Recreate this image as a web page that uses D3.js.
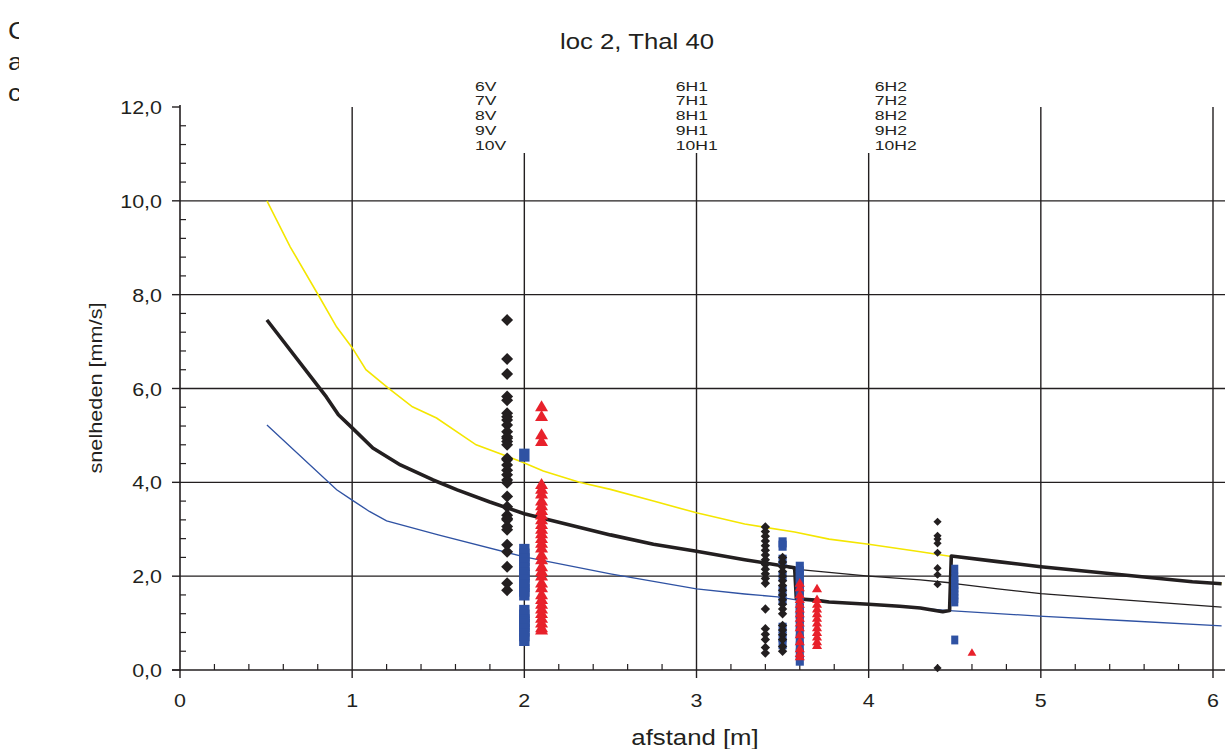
<!DOCTYPE html>
<html><head><meta charset="utf-8">
<script src="https://cdn.jsdelivr.net/npm/d3@7"></script>
<style>
body{margin:0;background:#fff}
svg{display:block}
text{font-family:"Liberation Sans",Arial,sans-serif;fill:#231f20}
</style>
</head><body>
<svg id="c" width="1225" height="749"></svg>
<script>
// ---------- data ----------
const title = "loc 2, Thal 40";
const xLabel = "afstand [m]";
const yLabel = "snelheden [mm/s]";
const xTicks = [0,1,2,3,4,5,6];
const xTickLabels = ["0","1","2","3","4","5","6"];
const yTicks = [0,2,4,6,8,10,12];
const yTickLabels = ["0,0","2,0","4,0","6,0","8,0","10,0","12,0"];
const sensorPositions = [2,3,4];
const sensorLabelX = [1.713,2.88,4.036];
const sensorLabels = [
  ["6V","7V","8V","9V","10V"],
  ["6H1","7H1","8H1","9H1","10H1"],
  ["6H2","7H2","8H2","9H2","10H2"]
];
const sideLetters = ["C","a","c"];

const upperX = [0.505,0.64,0.81,0.91,1.0,1.08,1.21,1.35,1.49,1.72,1.99,2.11,2.32,2.5,2.75,3.0,3.28,3.57,3.77,4.0,4.3,4.48,4.75,5.0,5.44,5.88,6.05];
const upperY = [10.0,9.02,7.95,7.31,6.87,6.40,6.01,5.61,5.37,4.80,4.43,4.24,4.0,3.85,3.6,3.35,3.11,2.94,2.79,2.68,2.52,2.42,2.31,2.2,2.04,1.88,1.84];
const meanX = [0.505,0.85,0.92,1.0,1.12,1.28,1.47,1.61,1.8,2.0,2.2,2.5,2.75,3.0,3.28,3.47,3.57,3.77,4.0,4.3,4.47,4.5,4.75,5.0,5.5,6.05];
const meanY = [7.46,5.82,5.44,5.16,4.73,4.37,4.05,3.84,3.58,3.33,3.15,2.88,2.68,2.53,2.35,2.24,2.15,2.08,2.0,1.92,1.86,1.84,1.73,1.63,1.49,1.34];
const lowerX = [0.505,0.91,1.0,1.1,1.2,1.5,2.0,2.5,3.0,3.28,3.47,3.57,4.0,4.3,4.45,4.49,4.99,5.5,6.05];
const lowerY = [5.22,3.84,3.62,3.38,3.18,2.88,2.41,2.05,1.73,1.62,1.56,1.50,1.40,1.32,1.27,1.26,1.15,1.05,0.94];
const thickX = [0.505,0.85,0.92,1.0,1.12,1.28,1.47,1.61,1.8,2.0,2.2,2.5,2.75,3.0,3.28,3.47,3.57,3.58,3.69,3.77,4.0,4.18,4.3,4.43,4.47,4.48,4.75,5.0,5.44,5.88,6.05];
const thickY = [7.46,5.82,5.44,5.16,4.73,4.37,4.05,3.84,3.58,3.33,3.15,2.88,2.68,2.53,2.35,2.24,2.18,1.52,1.49,1.45,1.40,1.36,1.32,1.24,1.27,2.43,2.31,2.2,2.04,1.88,1.84];

// measured points (x in m, velocities in mm/s)
const black19 = [7.46,6.63,6.31,5.83,5.75,5.47,5.40,5.33,5.22,5.08,4.97,4.94,4.87,4.80,4.51,4.48,4.37,4.26,4.16,4.05,3.99,3.70,3.48,3.30,3.23,3.20,3.06,2.99,2.67,2.52,2.20,1.85,1.70];
const blue20 = [4.58,2.55,2.45,2.35,2.25,2.15,2.05,2.0,1.9,1.8,1.7,1.62,1.25,1.15,1.05,1.0,0.95,0.85,0.75,0.65];
const red21 = [5.61,5.40,5.01,4.87,3.95,3.85,3.75,3.6,3.5,3.4,3.3,3.2,3.1,3.0,2.9,2.8,2.7,2.6,2.45,2.35,2.2,2.1,2.0,1.85,1.75,1.6,1.5,1.4,1.3,1.2,1.1,1.0,0.9,0.85];
const black34 = [3.05,2.95,2.85,2.75,2.65,2.55,2.45,2.35,2.25,2.15,2.05,1.95,1.85,1.3,0.88,0.76,0.65,0.48,0.36];
const black35 = [2.4,2.3,2.2,2.1,2.0,1.9,1.8,1.7,1.6,1.5,1.4,1.3,1.2,0.95,0.85,0.75,0.65,0.5,0.4];
const blue35 = [2.72,2.65,2.35,2.0,1.7,1.5,0.9,0.7,0.55];
const blue36 = [2.2,2.1,2.0,1.9,1.8,1.7,1.6,1.4,1.3,1.2,1.1,0.95,0.8,0.65,0.5,0.35,0.2];
const red36 = [1.85,1.75,1.6,1.5,1.4,1.3,1.2,1.1,1.0,0.9,0.75,0.6,0.45,0.35,0.28];
const red37 = [1.73,1.5,1.4,1.3,1.2,1.1,1.0,0.9,0.8,0.7,0.6,0.52];
const black44 = [3.16,2.86,2.79,2.70,2.50,2.17,2.03,1.83,0.04];
const blue45 = [2.15,1.98,1.9,1.82,1.75,1.68,1.6,1.52,1.45,0.64];
const red46 = [0.37];

const groups = [
  {x:2.0, shape:"square", set:"V", values:blue20},
  {x:3.5, shape:"square", set:"H1", values:blue35},
  {x:3.6, shape:"square", set:"H1", values:blue36},
  {x:4.5, shape:"square", set:"H2", values:blue45},
  {x:1.9, shape:"diamond", set:"V", values:black19},
  {x:3.4, shape:"diamond", set:"H1", values:black34},
  {x:3.5, shape:"diamond", set:"H1", values:black35},
  {x:4.4, shape:"diamond", set:"H2", values:black44},
  {x:2.1, shape:"triangle", set:"V", values:red21},
  {x:3.6, shape:"triangle", set:"H1", values:red36},
  {x:3.7, shape:"triangle", set:"H1", values:red37},
  {x:4.6, shape:"triangle", set:"H2", values:red46}
];

// ---------- styles ----------
const ink = "#231f20";
const SX = 1.13; // horizontal stretch of the original lettering
const markerScale = {V:1, H1:0.78, H2:0.68};
const colors = {diamond:"#231f20", square:"#2f52a3", triangle:"#e8212b"};

// ---------- chart ----------
const svg = d3.select("#c");
const x = d3.scaleLinear().domain([0,6]).range([180,1213]);
const y = d3.scaleLinear().domain([0,12]).range([670,107]);

function label(parent, tx, ty, size, anchor, str, rot, sx){
  return parent.append("text")
    .attr("transform",`translate(${tx},${ty})${rot?` rotate(${rot})`:""} scale(${sx||SX},1)`)
    .attr("text-anchor",anchor).attr("font-size",size).text(str);
}

// gridlines
const gH = svg.append("g");
gH.selectAll("line").data(yTicks.filter(d=>d>0 && d<12)).join("line")
  .attr("x1",x(0)).attr("x2",1225).attr("y1",d=>y(d)).attr("y2",d=>y(d))
  .attr("stroke",ink).attr("stroke-width",1.4);
const gV = svg.append("g");
gV.selectAll("line").data(xTicks.filter(d=>d>0)).join("line")
  .attr("x1",d=>x(d)).attr("x2",d=>x(d))
  .attr("y1",d=>sensorPositions.includes(d)?153:y(12)).attr("y2",y(0))
  .attr("stroke",ink).attr("stroke-width",1.4);

// axes
const yMinor = d3.range(0,12.01,0.4).filter(v=>Math.abs(v/2-Math.round(v/2))>1e-6);
svg.append("g").selectAll("line").data(yMinor).join("line")
  .attr("x1",x(0)).attr("x2",x(0)+6).attr("y1",d=>y(d)).attr("y2",d=>y(d))
  .attr("stroke",ink).attr("stroke-width",1.2);
svg.append("g").selectAll("line").data(yTicks).join("line")
  .attr("x1",x(0)-8).attr("x2",x(0)).attr("y1",d=>y(d)).attr("y2",d=>y(d))
  .attr("stroke",ink).attr("stroke-width",1.4);
const xMinor = d3.range(0,6.2,0.2).filter(v=>Math.abs(v-Math.round(v))>1e-6);
svg.append("g").selectAll("line").data(xMinor).join("line")
  .attr("x1",d=>x(d)).attr("x2",d=>x(d)).attr("y1",y(0)-6).attr("y2",y(0))
  .attr("stroke",ink).attr("stroke-width",1.2);
svg.append("g").selectAll("line").data(xTicks).join("line")
  .attr("x1",d=>x(d)).attr("x2",d=>x(d)).attr("y1",y(0)).attr("y2",y(0)+8)
  .attr("stroke",ink).attr("stroke-width",1.4);
svg.append("line").attr("x1",x(0)).attr("x2",x(0)).attr("y1",y(12)-2).attr("y2",y(0)+1)
  .attr("stroke",ink).attr("stroke-width",1.6);
svg.append("line").attr("x1",x(0)-8).attr("x2",1225).attr("y1",y(0)).attr("y2",y(0))
  .attr("stroke",ink).attr("stroke-width",1.6);

// tick labels
const gYL = svg.append("g");
yTicks.forEach((d,i)=>label(gYL,162,y(d)+7,19,"end",yTickLabels[i]));
const gXL = svg.append("g");
xTicks.forEach((d,i)=>label(gXL,x(d),707,19,"middle",xTickLabels[i]));

// sensor labels
sensorLabels.forEach((labs,i)=>{
  const g = svg.append("g");
  labs.forEach((t,j)=>label(g,x(sensorLabelX[i]),90.5+j*14.8,12.8,"start",t,0,1.37));
});

// titles
label(svg,637,49,22.8,"middle",title);
label(svg,695,745,22.8,"middle",xLabel);
label(svg,102,388,19.2,"middle",yLabel,-90);

// clipped side letters
svg.append("clipPath").attr("id","side").append("rect")
  .attr("x",0).attr("y",0).attr("width",19).attr("height",110);
const gS = svg.append("g").attr("clip-path","url(#side)");
sideLetters.forEach((t,i)=>label(gS,8,39+i*31,24,"start",t));

// lines
const line = d3.line().x(d=>x(d[0])).y(d=>y(d[1]));
const zip = (a,b)=>a.map((v,i)=>[v,b[i]]);
svg.append("path").datum(zip(upperX,upperY)).attr("d",line)
  .attr("fill","none").attr("stroke","#f4e600").attr("stroke-width",1.6);
svg.append("path").datum(zip(lowerX,lowerY)).attr("d",line)
  .attr("fill","none").attr("stroke","#2f52a3").attr("stroke-width",1.3);
svg.append("path").datum(zip(meanX,meanY)).attr("d",line)
  .attr("fill","none").attr("stroke",ink).attr("stroke-width",1.3);
svg.append("path").datum(zip(thickX,thickY)).attr("d",line)
  .attr("fill","none").attr("stroke",ink).attr("stroke-width",3.6).attr("stroke-linejoin","round");

// markers
groups.forEach(g=>{
  const s = markerScale[g.set];
  const sel = svg.append("g").selectAll("path").data(g.values).join("path")
    .attr("fill",colors[g.shape]);
  if(g.shape==="diamond"){
    const h = 6*s;
    sel.attr("d",v=>{const cx=x(g.x),cy=y(v);return `M${cx},${cy-h}L${cx+h},${cy}L${cx},${cy+h}L${cx-h},${cy}Z`;});
  } else if(g.shape==="square"){
    const w = 5.2*s, h = 6.5*s;
    sel.attr("d",v=>{const cx=x(g.x),cy=y(v);return `M${cx-w},${cy-h}H${cx+w}V${cy+h}H${cx-w}Z`;});
  } else {
    const w = 6.5*s, h = 11*s;
    sel.attr("d",v=>{const cx=x(g.x),cy=y(v);return `M${cx},${cy-h*0.6}L${cx+w},${cy+h*0.4}L${cx-w},${cy+h*0.4}Z`;});
  }
});
</script>
</body></html>
